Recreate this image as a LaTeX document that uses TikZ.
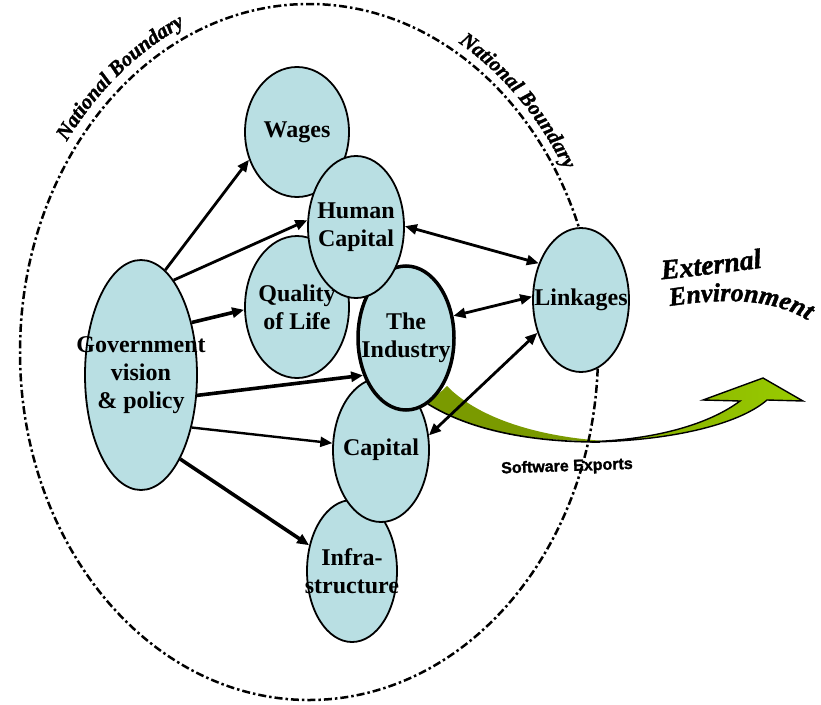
\documentclass[tikz,border=0pt]{standalone}
\usepackage{fontspec}
\setmainfont{Liberation Serif}
\newfontfamily\sanslabel[FakeBold=1.5]{Liberation Sans}
\newfontfamily\decofont[FakeBold=1.5]{Liberation Serif}
\usetikzlibrary{arrows.meta,shapes.geometric,decorations.text}
\definecolor{blobfill}{RGB}{185,223,227}
\definecolor{olivegreen}{RGB}{122,154,0}
\definecolor{limegreen}{RGB}{153,204,0}
\newcommand\nbfont{\decofont\fontsize{21}{24}\selectfont\bfseries\itshape}
\newcommand\extfont{\decofont\fontsize{28}{30}\selectfont\bfseries\itshape}
\newcommand\envfont{\decofont\fontsize{26}{30}\selectfont\bfseries\itshape}

\begin{document}
\begin{tikzpicture}[x=1pt,y=-1pt,
  blob/.style={ellipse, draw=black, line width=1.8pt, fill=blobfill, inner sep=0pt},
  blobtext/.style={font=\fontsize{24}{28}\selectfont\bfseries, align=center, inner sep=0pt},
  tip/.tip={Triangle[length=12pt,width=10pt]},
  link/.style={line width=2.8pt, -tip},
  biline/.style={line width=2.8pt, tip-tip},
  boundary/.style={line width=2.5pt, dash pattern=on 8pt off 3pt on 2.5pt off 3pt}
]
\useasboundingbox (0,0) rectangle (821,704);

% export ribbon leaving the industry
\fill[olivegreen] (447,386) .. controls (475,415) and (530,436) .. (605,441)
  .. controls (530,442) and (470,430) .. (428,404) -- cycle;
\draw[line width=1.6pt] (428,404) .. controls (470,430) and (530,442) .. (600,442);
\shadedraw[left color=olivegreen!70!limegreen, right color=limegreen, draw=black, line width=1.4pt]
  (590,442) .. controls (665,441) and (737,426) .. (767,400) -- (803,401) -- (763,378)
  -- (703,400) -- (740,401) .. controls (712,422) and (665,437) .. (605,441) -- cycle;

% national boundary
\coordinate (mid) at (309,352);
\draw[boundary] (mid) ellipse[x radius=289, y radius=348];
\begingroup
\nbfont
\path[decorate, decoration={text along path, text align=center, text={National Boundary}}]
  (mid) ++(-150:299 and 359) arc[start angle=-150, end angle=-108, x radius=299, y radius=359];
\path[decorate, decoration={text along path, text align=center, text={National Boundary}}]
  (mid) ++(-66:297 and 358) arc[start angle=-66, end angle=-25, x radius=297, y radius=358];
\endgroup

% factors
\node[blob, minimum width=104pt, minimum height=130pt, label={[blobtext]center:Wages}] (wages) at (297,132) {};
\node[blob, minimum width=104pt, minimum height=142pt, label={[blobtext]center:{Quality\\of Life}}] (qol) at (297,307) {};
\node[blob, minimum width=90pt, minimum height=142pt, label={[blobtext]center:{Infra-\\structure}}] (infra) at (352,571) {};
\node[blob, minimum width=96pt, minimum height=144pt, label={[blobtext]center:Capital}] (cap) at (381,450) {};
\node[blob, line width=3.5pt, minimum width=96pt, minimum height=144pt, label={[blobtext]center:{The\\Industry}}] (ind) at (406,338) {};
\node[blob, minimum width=96pt, minimum height=142pt, label={[blobtext]center:{Human\\Capital}}] (hc) at (356,227) {};
\node[blob, minimum width=96pt, minimum height=144pt, label={[blobtext]center:Linkages}] (lnk) at (581,300) {};
\node[blob, minimum width=112pt, minimum height=230pt, label={[blobtext]center:{Government\\vision\\\& policy}}] (gov) at (141,375) {};

% influences of government policy
\draw[link] (gov.77) -- (wages.-150);
\draw[link] (gov.71) -- (hc.172);
\draw[link, line width=3.6pt] (gov.46) -- (qol.-177);
\draw[link, line width=3.6pt] (gov.-20) -- (ind.-139);
\draw[link, line width=2.4pt] (gov.-46) -- (cap.172);
\draw[link, line width=3.6pt] (gov.-65) -- (infra.149);

% two-way linkages
\draw[biline] (hc.1) -- (lnk.139);
\draw[biline] (ind.25) -- (lnk.176);
\draw[biline] (cap.17) -- (lnk.-143);

\node[font=\sanslabel\fontsize{16}{16}\selectfont\bfseries, rotate=2] (swx) at (567,467) {Software Exports};

% outside world
\begingroup
\extfont
\path[decorate, decoration={text along path, text align=center, text={External}}]
  (642,281) .. controls (692,277) and (737,271) .. (782,265);
\endgroup
\begingroup
\envfont
\path[decorate, decoration={text along path, text align=left, text={Environment}}]
  (670,306) .. controls (729,297) and (784,298) .. (821,330);
\endgroup
\end{tikzpicture}
\end{document}
